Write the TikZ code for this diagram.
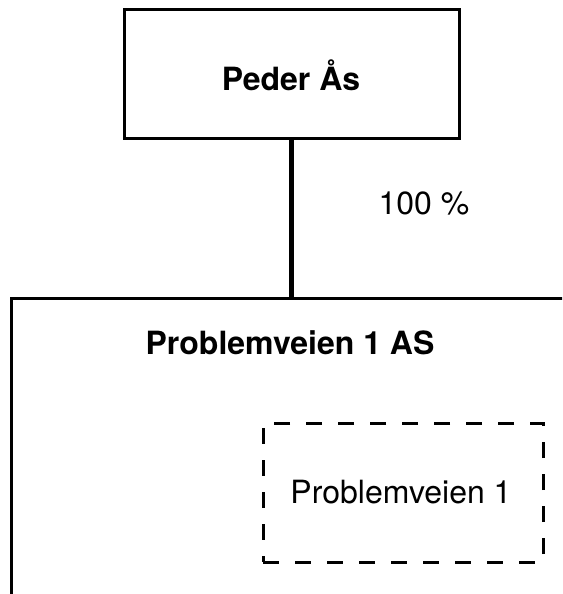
\documentclass[tikz,border=0pt]{standalone}
\usepackage{fontspec}
\setmainfont{TeX Gyre Heros}
\tikzset{
  solidbox/.style={draw, line width=3pt, rectangle, inner sep=0pt},
  dashbox/.style={draw, line width=3pt, rectangle, inner sep=0pt, dash pattern=on 16pt off 16pt},
  txt/.style={font=\fontsize{32}{38}\selectfont, inner sep=0pt},
  btxt/.style={font=\fontsize{32}{38}\selectfont\bfseries, inner sep=0pt},
  conn/.style={line width=5pt}
}
\begin{document}
\begin{tikzpicture}[x=1pt,y=1pt]
\clip (0,0) rectangle (562,-594);
\fill[white] (0,0) rectangle (562,-594);
\node[solidbox, minimum width=335pt, minimum height=128pt] (peder) at (291.5,-74) {};
\node[btxt] (pederlabel) at (291,-75) {Peder Ås};
\node[solidbox, anchor=north west, minimum width=700pt, minimum height=500pt] (company) at (10,-297) {};
\node[btxt] (companylabel) at (290,-343) {Problemveien 1 AS};
\node[txt] (pct) at (424,-203) {100 \%};
\node[dashbox, minimum width=280pt, minimum height=139pt] (prop) at (403,-492.5) {};
\node[txt] (proplabel) at (401,-492) {Problemveien 1};
\draw[conn] (peder.south) -- (peder.south |- company.north);
\end{tikzpicture}
\end{document}
